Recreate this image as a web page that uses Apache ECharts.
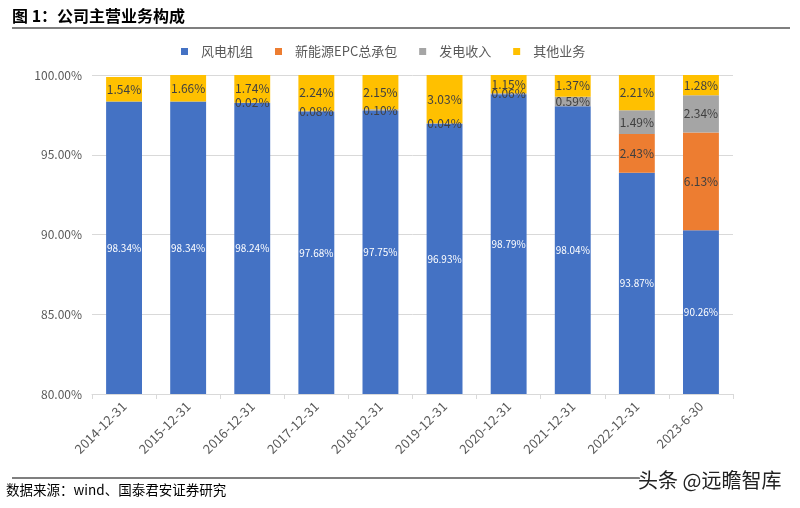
<!DOCTYPE html>
<html><head><meta charset="utf-8">
<script src="https://cdn.jsdelivr.net/npm/echarts@6/dist/echarts.min.js"></script>
<style>html,body{margin:0;padding:0;background:#fff}#c{width:800px;height:508px}</style>
</head><body><div id="c"></div>
<script>
const categories = ['2014-12-31','2015-12-31','2016-12-31','2017-12-31','2018-12-31','2019-12-31','2020-12-31','2021-12-31','2022-12-31','2023-6-30'];
const wind = [98.34,98.34,98.24,97.68,97.75,96.93,98.79,98.04,93.87,90.26];
const epc = [0,0,0,0,0,0,0,0,2.43,6.13];
const power = [0,0,0.02,0.08,0.10,0.04,0.06,0.59,1.49,2.34];
const other = [1.54,1.66,1.74,2.24,2.15,3.03,1.15,1.37,2.21,1.28];
const names = ['风电机组','新能源EPC总承包','发电收入','其他业务'];
const yTicks = [80,85,90,95,100];

const font = '"Noto Sans CJK SC","Noto Sans",sans-serif';
const chart = echarts.init(document.getElementById('c'), null, {renderer:'canvas'});
function lbl(color, size){
  return {show:true, position:'inside', color:color, fontSize:size, fontFamily:font,
    formatter: p => p.value > 0 ? p.value.toFixed(2) + '%' : ''};
}
chart.setOption({
  animation:false,
  backgroundColor:'#fff',
  color:['#4472C4','#ED7D31','#A5A5A5','#FFC000'],
  title:{text:'图 1：公司主营业务构成', left:7, top:3,
    textStyle:{fontSize:16, fontWeight:'bold', color:'#000', fontFamily:font}},
  legend:{top:40, left:176, itemWidth:7, itemHeight:7, itemGap:22, icon:'rect',
    textStyle:{fontSize:13, color:'#595959', fontFamily:font, padding:[0,0,0,8]},
    data:names},
  grid:{left:92, right:67, top:75, bottom:114},
  xAxis:{type:'category', data:categories,
    axisLine:{lineStyle:{color:'#d9d9d9'}},
    axisTick:{show:true, length:5, lineStyle:{color:'#d9d9d9'}},
    axisLabel:{rotate:45, fontSize:13, color:'#595959', fontFamily:font, margin:10}},
  yAxis:{type:'value', min:80, max:100, interval:5,
    axisLine:{show:false}, axisTick:{show:false},
    splitLine:{lineStyle:{color:'#d9d9d9'}},
    axisLabel:{fontSize:12, color:'#595959', fontFamily:font, margin:10,
      formatter: v => yTicks.includes(v) ? v.toFixed(2) + '%' : ''}},
  series:[
    {name:names[0], type:'bar', stack:'a', data:wind, barWidth:'56%', label:lbl('#fff',10)},
    {name:names[1], type:'bar', stack:'a', data:epc, label:lbl('#404040',12)},
    {name:names[2], type:'bar', stack:'a', data:power, label:lbl('#404040',12)},
    {name:names[3], type:'bar', stack:'a', data:other, label:lbl('#404040',12)}
  ],
  graphic:[
    {type:'line', shape:{x1:12,y1:28,x2:790,y2:28}, style:{stroke:'#000', lineWidth:1.2}},
    {type:'line', shape:{x1:12,y1:478,x2:640,y2:478}, style:{stroke:'#000', lineWidth:1.2}},
    {type:'text', left:6, top:483, style:{text:'数据来源：wind、国泰君安证券研究', fontSize:13.5, fill:'#000', fontFamily:font}},
    {type:'text', left:637, top:469, style:{text:'头条 @远瞻智库', fontSize:20, fill:'#222', fontFamily:font, stroke:'#fff', lineWidth:2}}
  ]
});
</script></body></html>
